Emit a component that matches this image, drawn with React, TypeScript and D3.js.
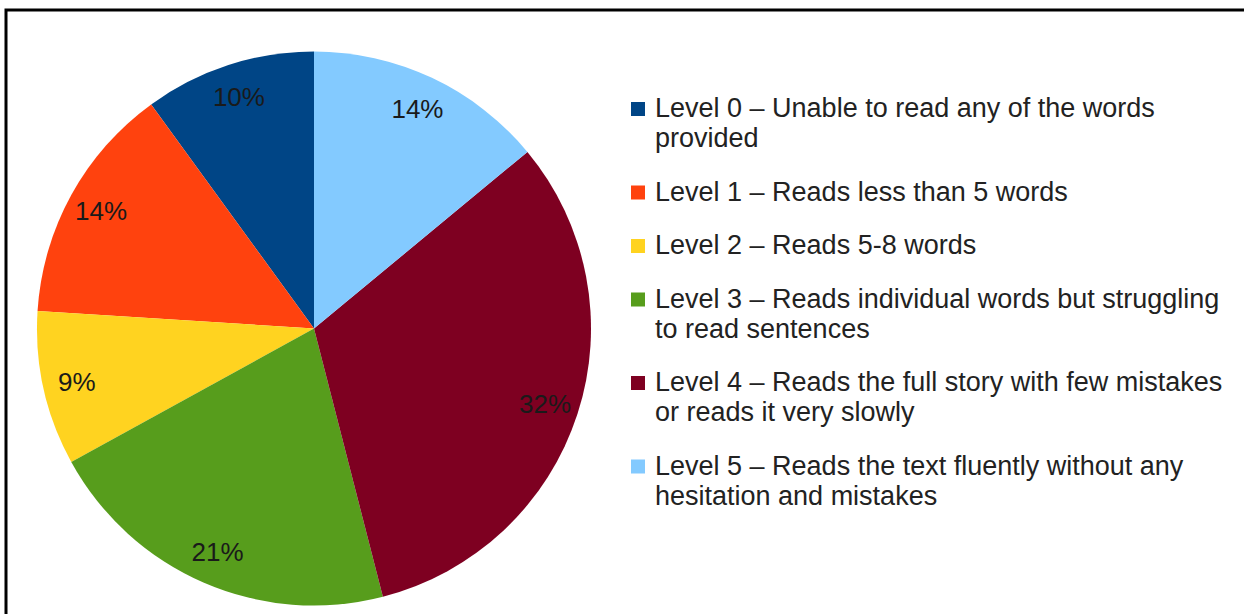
import React from "react";
import * as d3 from "d3";

const categories = ["Level 0", "Level 1", "Level 2", "Level 3", "Level 4", "Level 5"];
const values = [10, 14, 9, 21, 32, 14];
const colors = ["#004586", "#ff420e", "#ffd320", "#579d1c", "#7e0021", "#83caff"];
const legendLines = [
  ["Level 0 – Unable to read any of the words", "provided"],
  ["Level 1 – Reads less than 5 words"],
  ["Level 2 – Reads 5-8 words"],
  ["Level 3 – Reads individual words but struggling", "to read sentences"],
  ["Level 4 – Reads the full story with few mistakes", "or reads it very slowly"],
  ["Level 5 – Reads the text fluently without any", "hesitation and mistakes"],
];

const W = 1244;
const H = 614;
const cx = 314;
const cy = 328.5;
const R = 277;
const labelR = 243;
const FONT = "'Liberation Sans', Arial, sans-serif";

export default function App() {
  const pie = d3
    .pie<number>()
    .sort(null)
    .value((d) => d)
    .startAngle(0)
    .endAngle(-2 * Math.PI);
  const arcs = pie(values);
  const arcGen = d3.arc<d3.PieArcDatum<number>>().innerRadius(0).outerRadius(R);
  const total = d3.sum(values);

  const lineH = 30;
  const gap = 53.5;
  let y = 117;
  const legendItems = legendLines.map((lines, i) => {
    const item = { i, lines, y, name: categories[i] };
    y += (lines.length - 1) * lineH + gap;
    return item;
  });

  return (
    <div style={{ position: "fixed", left: 0, top: 0, width: W, height: H, background: "#fff" }}>
      <svg width={W} height={H} style={{ display: "block" }}>
        <rect x={0} y={0} width={W} height={H} fill="#fff" />
        <path d={`M6,${H} L6,10 L${W},10`} fill="none" stroke="#000" strokeWidth={3} />
        <g transform={`translate(${cx},${cy})`}>
          {arcs.map((a, i) => (
            <path key={i} d={arcGen(a) || ""} fill={colors[i]} />
          ))}
          {arcs.map((a, i) => {
            const mid = (a.startAngle + a.endAngle) / 2;
            const x = labelR * Math.sin(mid);
            const yy = -labelR * Math.cos(mid);
            return (
              <text
                key={i}
                x={x}
                y={yy}
                textAnchor="middle"
                dominantBaseline="central"
                fontFamily={FONT}
                fontSize={26}
                fill="#1a1a1a"
              >
                {Math.round((values[i] / total) * 100)}%
              </text>
            );
          })}
        </g>
        <g>
          {legendItems.map((it) => (
            <g key={it.i}>
              <rect x={631} y={it.y - 15} width={14} height={14} fill={colors[it.i]} />
              {it.lines.map((ln, j) => (
                <text
                  key={j}
                  x={655}
                  y={it.y + j * lineH}
                  fontFamily={FONT}
                  fontSize={27}
                  fill="#222"
                >
                  {ln}
                </text>
              ))}
            </g>
          ))}
        </g>
      </svg>
    </div>
  );
}
